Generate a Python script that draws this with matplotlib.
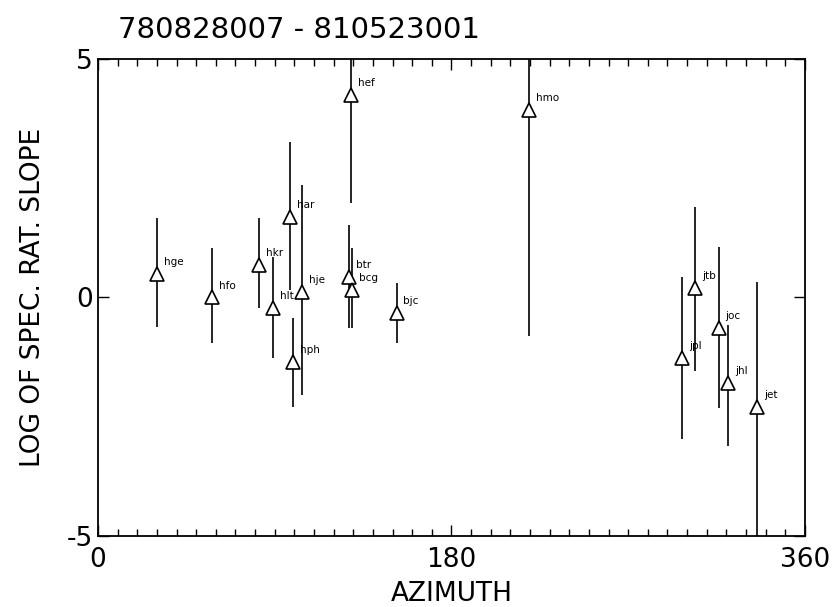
#!/usr/bin/env python3
import matplotlib
matplotlib.use("Agg")
import matplotlib.pyplot as plt
from matplotlib.ticker import MultipleLocator

plt.rcParams['axes.unicode_minus'] = False

# station data
names = ['hge', 'hfo', 'hkr', 'hlt', 'har', 'hje', 'hph', 'hef', 'btr',
         'bcg', 'bjc', 'hmo', 'jpl', 'jtb', 'joc', 'jhl', 'jet']
azim = [30, 58, 82, 89, 98, 104, 99.5, 128.8, 127.8,
        129.3, 152, 219.5, 297.4, 304, 316, 321, 335.5]
slope = [0.50, 0.0, 0.68, -0.22, 1.69, 0.12, -1.35, 4.24, 0.43,
         0.16, -0.33, 3.93, -1.27, 0.20, -0.64, -1.79, -2.30]
err_hi = [1.67, 1.04, 1.67, 0.85, 3.26, 2.36, -0.43, 5.5, 1.52,
          1.04, 0.30, 5.5, 0.43, 1.90, 1.06, -0.58, 0.32]
err_lo = [-0.62, -0.95, -0.22, -1.27, 0.16, -2.04, -2.30, 1.98, -0.64,
          -0.64, -0.95, -0.81, -2.97, -1.54, -2.32, -3.11, -5.5]

fig = plt.figure(figsize=(8.35, 6.07), dpi=100)
ax = fig.add_axes([0.1174, 0.117, 0.8466, 0.7858])

ax.vlines(azim, err_lo, err_hi, color='black', lw=1.2)
ax.plot(azim, slope, '^', ms=10, mfc='white', mec='black', mew=1.2, ls='none')
for n, x, y in zip(names, azim, slope):
    ax.annotate(n, (x, y), xytext=(5, 5), textcoords='offset points',
                fontsize=7.5, ha='left', va='bottom')

ax.set_xlim(0, 360)
ax.set_ylim(-5, 5)
ax.set_xticks([0, 180, 360])
ax.xaxis.set_minor_locator(MultipleLocator(10))
ax.set_yticks([-5, 0, 5])
ax.tick_params(which='both', direction='in', top=True, right=True, width=1)
ax.tick_params(which='major', length=8, labelsize=19)
ax.tick_params(which='minor', length=5)
ax.tick_params(axis='x', pad=8)
for s in ax.spines.values():
    s.set_linewidth(1.3)

ax.set_xlabel('AZIMUTH', fontsize=19, labelpad=6)
ax.set_ylabel('LOG OF SPEC. RAT. SLOPE', fontsize=19, labelpad=15)
fig.text(118 / 835, 1 - 30 / 607, '780828007 - 810523001', fontsize=21,
         ha='left', va='center')

fig.savefig('out.png', dpi=100)
